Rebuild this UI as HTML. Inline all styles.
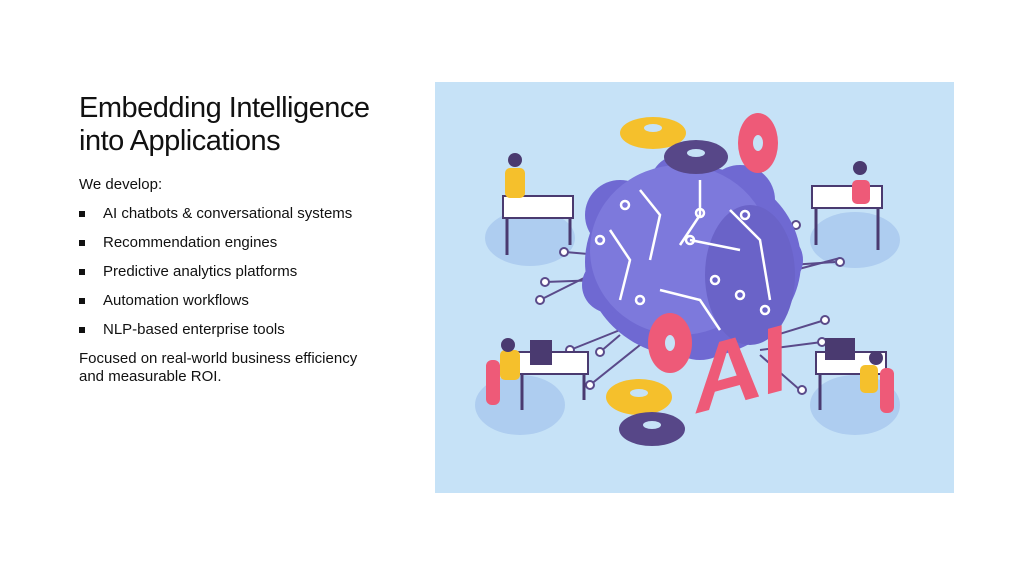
<!DOCTYPE html>
<html><head><meta charset="utf-8"><style>
body{margin:0;width:1024px;height:576px;background:#fff;position:relative;overflow:hidden;font-family:"Liberation Sans",sans-serif;color:#111}
.t{position:absolute;left:79px;top:92px;font-size:29px;line-height:33px;letter-spacing:-0.5px}
.b{position:absolute;left:79px;font-size:15px;white-space:nowrap}
.sq{position:absolute;left:79px;width:6px;height:6px;background:#111}
svg{position:absolute;left:0;top:0}
</style></head><body>
<div class="t">Embedding Intelligence<br>into Applications</div>
<div class="b" style="top:176px">We develop:</div>
<div class="sq" style="top:211px"></div><div class="b" style="left:103px;top:205px">AI chatbots &amp; conversational systems</div>
<div class="sq" style="top:240px"></div><div class="b" style="left:103px;top:234px">Recommendation engines</div>
<div class="sq" style="top:269px"></div><div class="b" style="left:103px;top:263px">Predictive analytics platforms</div>
<div class="sq" style="top:298px"></div><div class="b" style="left:103px;top:292px">Automation workflows</div>
<div class="sq" style="top:327px"></div><div class="b" style="left:103px;top:321px">NLP-based enterprise tools</div>
<div class="b" style="top:350px;line-height:18px">Focused on real-world business efficiency<br>and measurable ROI.</div>
<svg width="1024" height="576">
<rect x="435" y="82" width="519" height="411" fill="#c6e2f7"/>
<g fill="#aecdf0"><ellipse cx="530" cy="238" rx="45" ry="28"/><ellipse cx="855" cy="240" rx="45" ry="28"/><ellipse cx="520" cy="405" rx="45" ry="30"/><ellipse cx="855" cy="405" rx="45" ry="30"/></g>
<g stroke="#5a4a8a" stroke-width="2" fill="#fff">
<line x1="600" y1="270" x2="540" y2="300"/><line x1="600" y1="255" x2="565" y2="252"/><line x1="600" y1="280" x2="545" y2="282"/>
<line x1="620" y1="330" x2="570" y2="350"/><line x1="620" y1="335" x2="600" y2="352"/><line x1="640" y1="345" x2="590" y2="385"/>
<line x1="790" y1="240" x2="795" y2="225"/><line x1="790" y1="265" x2="835" y2="262"/><line x1="795" y1="270" x2="840" y2="258"/>
<line x1="760" y1="340" x2="825" y2="320"/><line x1="760" y1="350" x2="822" y2="342"/><line x1="760" y1="355" x2="800" y2="390"/>
<circle cx="564" cy="252" r="4"/><circle cx="540" cy="300" r="4"/><circle cx="545" cy="282" r="4"/><circle cx="570" cy="350" r="4"/><circle cx="600" cy="352" r="4"/><circle cx="590" cy="385" r="4"/>
<circle cx="796" cy="225" r="4"/><circle cx="840" cy="262" r="4"/><circle cx="825" cy="320" r="4"/><circle cx="822" cy="342" r="4"/><circle cx="802" cy="390" r="4"/>
</g>
<g fill="#6f69d2"><ellipse cx="693" cy="262" rx="108" ry="96"/><circle cx="620" cy="215" r="35"/><circle cx="680" cy="185" r="30"/><circle cx="740" cy="200" r="35"/><circle cx="775" cy="260" r="28"/><circle cx="610" cy="285" r="28"/><circle cx="700" cy="320" r="40"/></g>
<ellipse cx="680" cy="250" rx="90" ry="85" fill="#7d79dc"/>
<ellipse cx="750" cy="275" rx="45" ry="70" fill="#6a63c8"/>
<g stroke="#fff" stroke-width="2.5" fill="none">
<path d="M640 190 L660 215 L650 260"/><path d="M700 180 L700 215 L680 245"/><path d="M610 230 L630 260 L620 300"/><path d="M730 210 L760 240 L770 300"/><path d="M660 290 L700 300 L720 330"/><path d="M690 240 L740 250"/>
<circle cx="625" cy="205" r="4"/><circle cx="700" cy="213" r="4"/><circle cx="745" cy="215" r="4"/><circle cx="690" cy="240" r="4"/><circle cx="600" cy="240" r="4"/><circle cx="715" cy="280" r="4"/><circle cx="640" cy="300" r="4"/><circle cx="740" cy="295" r="4"/><circle cx="765" cy="310" r="4"/><circle cx="665" cy="322" r="4"/>
</g>
<ellipse cx="653" cy="133" rx="33" ry="16" fill="#f5c02c"/><ellipse cx="653" cy="128" rx="9" ry="4" fill="#c6e2f7"/>
<ellipse cx="696" cy="157" rx="32" ry="17" fill="#574788"/><ellipse cx="696" cy="153" rx="9" ry="4" fill="#c6e2f7"/>
<ellipse cx="758" cy="143" rx="20" ry="30" fill="#ee5a78"/><ellipse cx="758" cy="143" rx="5" ry="8" fill="#c6e2f7"/>
<ellipse cx="670" cy="343" rx="22" ry="30" fill="#ee5a78"/><ellipse cx="670" cy="343" rx="5" ry="8" fill="#c6e2f7"/>
<ellipse cx="639" cy="397" rx="33" ry="18" fill="#f5c02c"/><ellipse cx="639" cy="393" rx="9" ry="4" fill="#c6e2f7"/>
<ellipse cx="652" cy="429" rx="33" ry="17" fill="#574788"/><ellipse cx="652" cy="425" rx="9" ry="4" fill="#c6e2f7"/>
<text x="693" y="410" font-family="Liberation Sans" font-weight="bold" font-size="95" fill="#ee5a78" transform="skewY(-15) translate(0,190)">AI</text>
<g fill="#fff" stroke="#4a3a70" stroke-width="2">
<rect x="503" y="196" width="70" height="22"/><rect x="812" y="186" width="70" height="22"/><rect x="518" y="352" width="70" height="22"/><rect x="816" y="352" width="70" height="22"/>
</g>
<g stroke="#4a3a70" stroke-width="3"><line x1="507" y1="218" x2="507" y2="255"/><line x1="570" y1="218" x2="570" y2="245"/><line x1="816" y1="208" x2="816" y2="245"/><line x1="878" y1="208" x2="878" y2="250"/><line x1="522" y1="374" x2="522" y2="410"/><line x1="584" y1="374" x2="584" y2="400"/><line x1="820" y1="374" x2="820" y2="410"/><line x1="882" y1="374" x2="882" y2="395"/></g>
<g fill="#f5c02c"><rect x="505" y="168" width="20" height="30" rx="5"/><rect x="500" y="350" width="20" height="30" rx="5"/><rect x="860" y="365" width="18" height="28" rx="5"/></g>
<g fill="#ee5a78"><rect x="852" y="180" width="18" height="24" rx="5"/><rect x="486" y="360" width="14" height="45" rx="6"/><rect x="880" y="368" width="14" height="45" rx="6"/></g>
<g fill="#4a3a70"><circle cx="515" cy="160" r="7"/><circle cx="860" cy="168" r="7"/><circle cx="508" cy="345" r="7"/><circle cx="876" cy="358" r="7"/><rect x="825" y="338" width="30" height="22"/><rect x="530" y="340" width="22" height="25"/></g>
</svg>
</body></html>
